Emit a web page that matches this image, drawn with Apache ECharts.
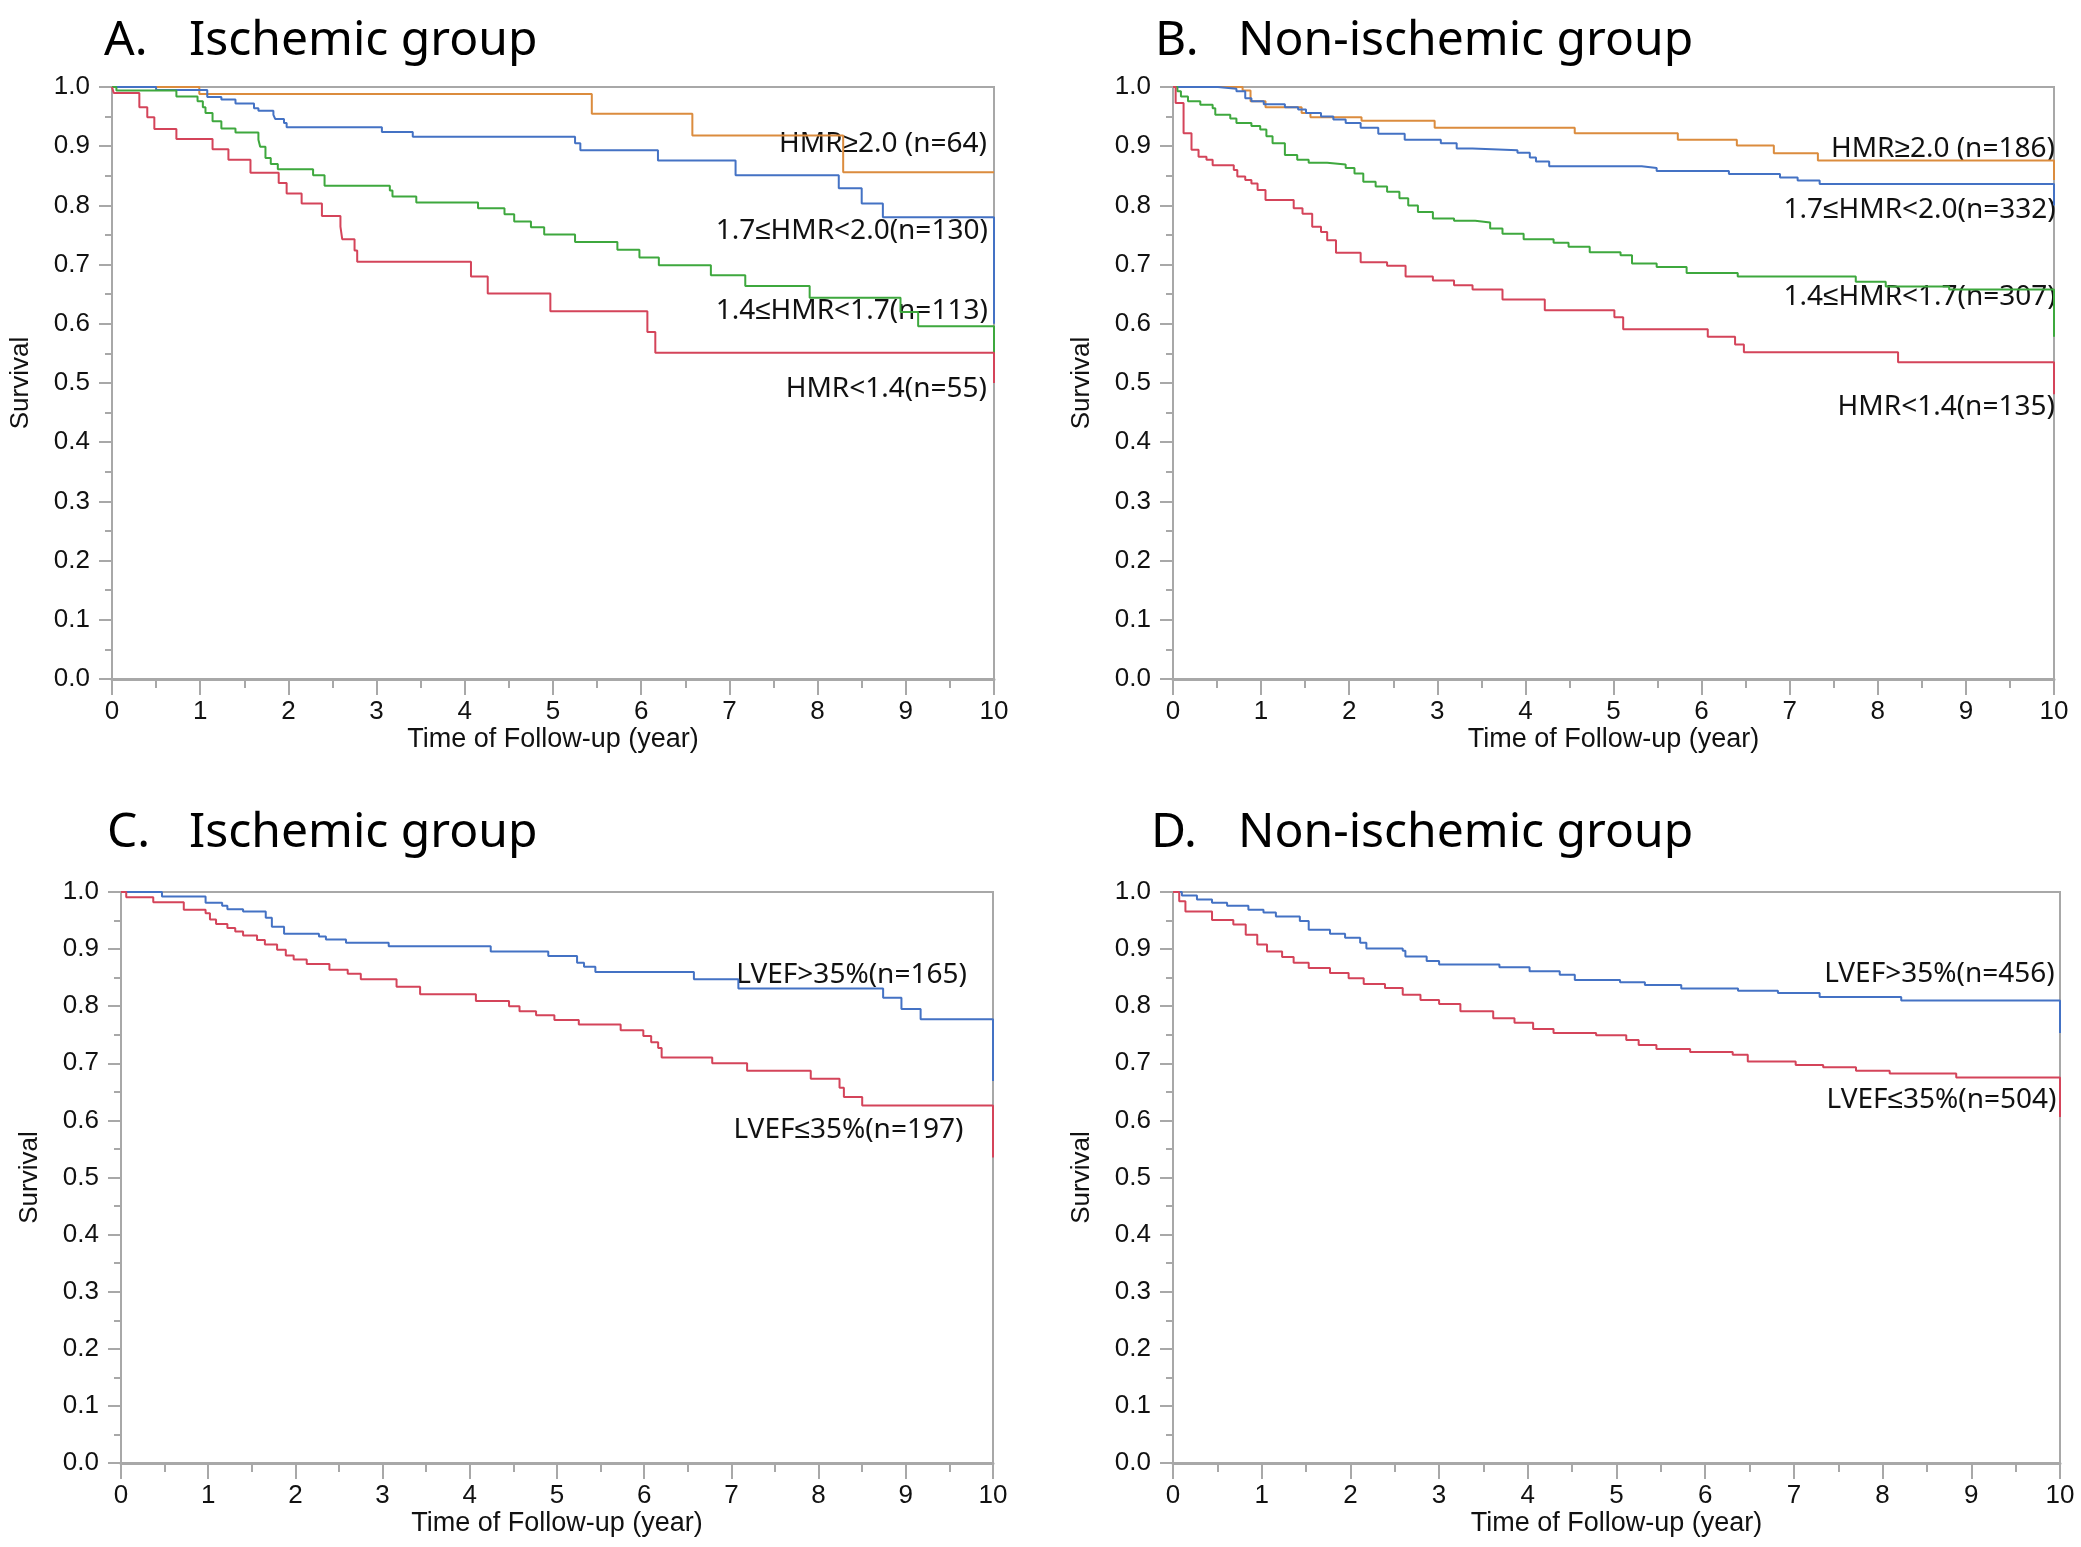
<!DOCTYPE html>
<html>
<head>
<meta charset="utf-8">
<script src="https://cdn.jsdelivr.net/npm/echarts@6/dist/echarts.min.js"></script>
<style>
html, body { margin: 0; padding: 0; background: #fff; }
#main { width: 2081px; height: 1547px; }
</style>
</head>
<body>
<div id="main"></div>
<script>
// Kaplan-Meier steps: [year, survival]
var A_HMR20 = [[0,1],[0.99,0.988],[5.44,0.955],[6.58,0.918],[8.29,0.856],[10,0.856]];
var A_HMR17 = [[0,1],[0.50,0.995],[1.08,0.983],[1.24,0.979],[1.40,0.972],[1.61,0.964],[1.66,0.96],[1.83,0.953],[1.85,0.946],[1.95,0.939],[1.98,0.932],[3.06,0.924],[3.41,0.916],[5.25,0.905],[5.31,0.893],[6.19,0.876],[7.07,0.851],[8.24,0.829],[8.50,0.803],[8.74,0.780],[10,0.780],[10,0.60]];
var A_HMR14 = [[0,1],[0.05,0.994],[0.73,0.984],[0.97,0.976],[1.03,0.966],[1.06,0.956],[1.14,0.942],[1.24,0.930],[1.40,0.923],[1.66,0.911],[1.68,0.899],[1.74,0.880],[1.80,0.870],[1.88,0.861],[2.28,0.851],[2.41,0.833],[3.15,0.825],[3.18,0.815],[3.45,0.805],[4.15,0.795],[4.45,0.785],[4.56,0.773],[4.75,0.763],[4.90,0.751],[5.25,0.738],[5.73,0.725],[5.98,0.712],[6.20,0.699],[6.79,0.682],[7.18,0.664],[7.91,0.644],[8.94,0.620],[9.14,0.596],[10,0.596],[10,0.55]];
var A_HMRLOW = [[0,1],[0.02,0.99],[0.31,0.966],[0.40,0.949],[0.48,0.929],[0.73,0.912],[1.14,0.895],[1.32,0.877],[1.57,0.855],[1.89,0.838],[1.98,0.820],[2.15,0.803],[2.38,0.782],[2.59,0.764],[2.61,0.743],[2.75,0.724],[2.78,0.705],[4.07,0.680],[4.26,0.651],[4.97,0.621],[6.07,0.586],[6.16,0.551],[10,0.551],[10,0.50]];

var B_HMR20 = [[0,1],[0.79,0.994],[0.88,0.976],[1.05,0.966],[1.46,0.956],[1.56,0.949],[2.14,0.943],[2.97,0.931],[4.56,0.922],[5.73,0.911],[6.40,0.901],[6.82,0.888],[7.32,0.876],[10,0.876],[10,0.843]];
var B_HMR17 = [[0,1],[0.51,0.997],[0.72,0.993],[0.82,0.981],[0.89,0.976],[1.03,0.971],[1.27,0.966],[1.42,0.962],[1.51,0.956],[1.68,0.950],[1.82,0.945],[1.96,0.939],[2.13,0.931],[2.33,0.921],[2.63,0.911],[3.04,0.905],[3.22,0.896],[3.40,0.893],[3.91,0.889],[4.05,0.881],[4.12,0.874],[4.27,0.866],[5.32,0.863],[5.49,0.858],[6.31,0.853],[6.89,0.847],[7.09,0.842],[7.34,0.836],[10,0.836],[10,0.80]];
var B_HMR14 = [[0,1],[0.05,0.993],[0.09,0.984],[0.17,0.976],[0.31,0.970],[0.45,0.964],[0.48,0.953],[0.65,0.947],[0.72,0.939],[0.89,0.934],[0.99,0.928],[1.06,0.917],[1.13,0.905],[1.27,0.885],[1.41,0.877],[1.54,0.872],[1.75,0.869],[1.96,0.863],[2.06,0.854],[2.16,0.840],[2.30,0.832],[2.43,0.823],[2.57,0.812],[2.67,0.800],[2.78,0.789],[2.95,0.778],[3.19,0.774],[3.43,0.771],[3.60,0.761],[3.74,0.752],[3.98,0.743],[4.32,0.737],[4.49,0.730],[4.73,0.721],[5.08,0.716],[5.21,0.702],[5.49,0.696],[5.83,0.686],[6.41,0.680],[7.75,0.671],[8.09,0.663],[8.81,0.658],[10,0.658],[10,0.578]];
var B_HMRLOW = [[0,1],[0.03,0.973],[0.12,0.922],[0.21,0.894],[0.29,0.882],[0.38,0.877],[0.45,0.868],[0.69,0.860],[0.73,0.849],[0.82,0.843],[0.89,0.837],[0.96,0.826],[1.05,0.809],[1.37,0.795],[1.47,0.786],[1.58,0.764],[1.68,0.755],[1.75,0.741],[1.85,0.720],[2.13,0.704],[2.43,0.698],[2.64,0.680],[2.95,0.673],[3.19,0.665],[3.40,0.658],[3.74,0.641],[4.22,0.623],[5.01,0.611],[5.11,0.591],[6.07,0.578],[6.38,0.565],[6.48,0.552],[8.23,0.535],[10,0.535],[10,0.481]];

var C_EFHIGH = [[0,1],[0.47,0.992],[0.97,0.981],[1.16,0.976],[1.22,0.970],[1.40,0.966],[1.66,0.955],[1.73,0.939],[1.87,0.927],[2.27,0.922],[2.35,0.917],[2.58,0.911],[3.07,0.905],[4.24,0.896],[4.90,0.888],[5.23,0.876],[5.31,0.869],[5.44,0.860],[6.57,0.847],[7.08,0.831],[8.74,0.815],[8.95,0.795],[9.17,0.777],[10,0.777],[10,0.669]];
var C_EFLOW = [[0,1],[0.06,0.991],[0.37,0.982],[0.72,0.969],[0.97,0.963],[1.02,0.952],[1.09,0.944],[1.22,0.937],[1.31,0.931],[1.40,0.924],[1.56,0.916],[1.65,0.908],[1.79,0.899],[1.89,0.889],[1.98,0.882],[2.13,0.874],[2.39,0.864],[2.60,0.857],[2.75,0.847],[3.16,0.834],[3.43,0.821],[4.07,0.809],[4.45,0.800],[4.57,0.791],[4.76,0.784],[4.97,0.776],[5.25,0.768],[5.73,0.758],[5.99,0.748],[6.08,0.737],[6.16,0.727],[6.20,0.710],[6.78,0.700],[7.18,0.687],[7.91,0.673],[8.24,0.657],[8.29,0.641],[8.50,0.626],[10,0.626],[10,0.535]];

var D_EFHIGH = [[0,1],[0.10,0.994],[0.27,0.987],[0.44,0.981],[0.61,0.976],[0.85,0.969],[1.02,0.964],[1.16,0.957],[1.43,0.949],[1.53,0.934],[1.77,0.927],[1.94,0.920],[2.11,0.911],[2.18,0.901],[2.59,0.897],[2.62,0.887],[2.86,0.879],[3.00,0.873],[3.68,0.868],[4.02,0.861],[4.36,0.855],[4.53,0.846],[5.04,0.842],[5.32,0.837],[5.73,0.831],[6.37,0.827],[6.82,0.823],[7.29,0.816],[8.21,0.810],[10,0.810],[10,0.753]];
var D_EFLOW = [[0,1],[0.07,0.984],[0.14,0.966],[0.44,0.951],[0.68,0.943],[0.82,0.925],[0.95,0.908],[1.06,0.896],[1.23,0.886],[1.36,0.876],[1.53,0.867],[1.77,0.858],[1.98,0.849],[2.15,0.839],[2.39,0.832],[2.59,0.820],[2.79,0.811],[3.00,0.804],[3.24,0.791],[3.61,0.779],[3.85,0.771],[4.06,0.760],[4.29,0.753],[4.77,0.749],[5.11,0.741],[5.25,0.732],[5.45,0.725],[5.83,0.720],[6.31,0.715],[6.48,0.703],[7.02,0.697],[7.33,0.693],[7.70,0.687],[8.08,0.682],[8.83,0.675],[10,0.675],[10,0.606]];

// panel headings and curve labels
var panelLetters = ['A.', 'B.', 'C.', 'D.'];
var panelTitles = ['Ischemic group', 'Non-ischemic group', 'Ischemic group', 'Non-ischemic group'];
var labelsA = ['HMR\u22652.0 (n=64)', '1.7\u2264HMR<2.0(n=130)', '1.4\u2264HMR<1.7(n=113)', 'HMR<1.4(n=55)'];
var labelsB = ['HMR\u22652.0 (n=186)', '1.7\u2264HMR<2.0(n=332)', '1.4\u2264HMR<1.7(n=307)', 'HMR<1.4(n=135)'];
var labelsC = ['LVEF>35%(n=165)', 'LVEF\u226435%(n=197)'];
var labelsD = ['LVEF>35%(n=456)', 'LVEF\u226435%(n=504)'];
// where each label's right edge sits, in [year, survival]
var anchorsA = [[9.92,0.904],[9.93,0.757],[9.93,0.621],[9.92,0.490]];
var anchorsB = [[10.01,0.895],[10.02,0.792],[10.02,0.645],[10.01,0.459]];
var anchorsC = [[9.70,0.855],[9.66,0.583]];
var anchorsD = [[9.94,0.857],[9.96,0.635]];

var ORANGE = '#db8c3e', BLUE = '#4472c4', GREEN = '#3ea83e', RED = '#d4445a';
var AXIS = '#a8a8a8';
var tickFont = 'Liberation Sans, Arial, sans-serif';
var textFont = 'Noto Sans, sans-serif';

var grids = [
  { left: 112, top: 87, width: 882, height: 592 },
  { left: 1173, top: 87, width: 881, height: 592 },
  { left: 121, top: 892, width: 872, height: 571 },
  { left: 1173, top: 892, width: 887, height: 571 }
];

var chart = echarts.init(document.getElementById('main'));

function makeX(i) {
  return {
    type: 'value', gridIndex: i, min: 0, max: 10, interval: 1,
    name: 'Time of Follow-up (year)', nameLocation: 'middle', nameGap: 47,
    nameTextStyle: { fontFamily: tickFont, fontSize: 27, color: '#111' },
    axisLine: { show: true, onZero: false, lineStyle: { color: AXIS, width: 3 } },
    axisTick: { show: true, inside: false, length: 16, lineStyle: { color: AXIS, width: 2 } },
    minorTick: { show: true, splitNumber: 2, length: 9, lineStyle: { color: AXIS, width: 2 } },
    axisLabel: { fontFamily: tickFont, fontSize: 26, color: '#111', margin: 20 },
    splitLine: { show: false }
  };
}
function makeY(i) {
  return {
    type: 'value', gridIndex: i, min: 0, max: 1, interval: 0.1,
    name: 'Survival', nameLocation: 'middle', nameGap: 78, nameRotate: 90,
    nameTextStyle: { fontFamily: tickFont, fontSize: 26, color: '#111' },
    axisLine: { show: true, onZero: false, lineStyle: { color: AXIS, width: 2 } },
    axisTick: { show: true, length: 13, lineStyle: { color: AXIS, width: 2 } },
    minorTick: { show: true, splitNumber: 2, length: 7, lineStyle: { color: AXIS, width: 2 } },
    axisLabel: { fontFamily: tickFont, fontSize: 26, color: '#111', margin: 22,
      formatter: function (v) { return v.toFixed(1); } },
    splitLine: { show: false }
  };
}
function km(i, data, color) {
  return {
    type: 'line', xAxisIndex: i, yAxisIndex: i, data: data, step: 'end',
    showSymbol: false, symbol: 'none', animation: false,
    lineStyle: { color: color, width: 2 }
  };
}

var graphics = [];
var titleTop = [17, 17, 809, 809];
var letterX = [104, 1155, 107, 1151];
var titleX = [189, 1238, 189, 1238];
for (var i = 0; i < 4; i++) {
  graphics.push({ type: 'text', left: letterX[i], top: titleTop[i], style: { text: panelLetters[i], font: '48px ' + textFont, fill: '#000' } });
  graphics.push({ type: 'text', left: titleX[i], top: titleTop[i], style: { text: panelTitles[i], font: '48px ' + textFont, fill: '#000' } });
}

chart.setOption({
  backgroundColor: '#fff',
  animation: false,
  grid: grids.map(function (g) {
    return Object.assign({ show: true, borderColor: AXIS, borderWidth: 2, backgroundColor: 'transparent' }, g);
  }),
  xAxis: [0, 1, 2, 3].map(makeX),
  yAxis: [0, 1, 2, 3].map(makeY),
  series: [
    km(0, A_HMR20, ORANGE), km(0, A_HMR17, BLUE), km(0, A_HMR14, GREEN), km(0, A_HMRLOW, RED),
    km(1, B_HMR20, ORANGE), km(1, B_HMR17, BLUE), km(1, B_HMR14, GREEN), km(1, B_HMRLOW, RED),
    km(2, C_EFHIGH, BLUE), km(2, C_EFLOW, RED),
    km(3, D_EFHIGH, BLUE), km(3, D_EFLOW, RED)
  ],
  graphic: graphics
});

// curve labels placed through the axes
function addLabels(gridIndex, texts, anchors) {
  texts.forEach(function (t, k) {
    var p = chart.convertToPixel({ gridIndex: gridIndex }, anchors[k]);
    graphics.push({
      type: 'text', x: p[0], y: p[1],
      style: { text: t, font: '28px ' + textFont, fill: '#111', textAlign: 'right', textVerticalAlign: 'middle' }
    });
  });
}
addLabels(0, labelsA, anchorsA);
addLabels(1, labelsB, anchorsB);
addLabels(2, labelsC, anchorsC);
addLabels(3, labelsD, anchorsD);
chart.setOption({ graphic: graphics });
</script>
</body>
</html>
